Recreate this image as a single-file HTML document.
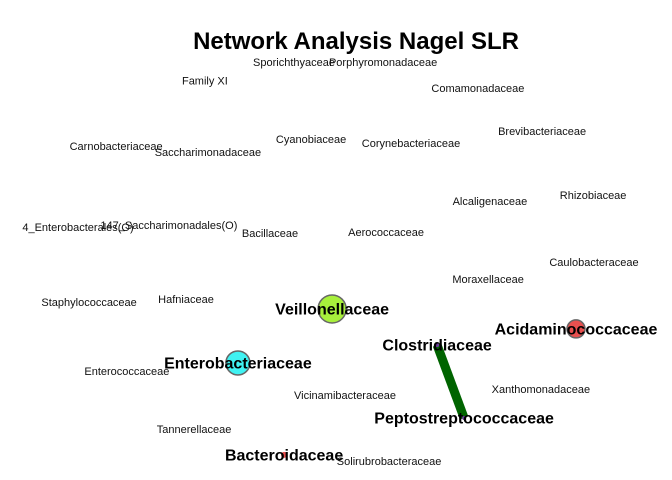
<!DOCTYPE html>
<html><head><meta charset="utf-8"><style>
html,body{margin:0;padding:0;background:#fff}
svg{display:block}
text{font-family:"Liberation Sans",sans-serif}
</style></head><body>
<svg id="chart" width="672" height="480" viewBox="0 0 672 480" xmlns="http://www.w3.org/2000/svg">
<rect width="672" height="480" fill="#fff"/>
<text x="356" y="49" text-anchor="middle" font-size="24" font-weight="bold" fill="#000">Network Analysis Nagel SLR</text>
<g id="edges"></g><g id="nodes"></g><g id="labels"></g>
</svg>
<script>
const nodeNames = ["Sporichthyaceae","Porphyromonadaceae","Family XI","Comamonadaceae","Brevibacteriaceae","Cyanobiaceae","Corynebacteriaceae","Carnobacteriaceae","Saccharimonadaceae","Alcaligenaceae","Rhizobiaceae","4_Enterobacterales(O)","147_Saccharimonadales(O)","Bacillaceae","Aerococcaceae","Caulobacteraceae","Moraxellaceae","Staphylococcaceae","Hafniaceae","Veillonellaceae","Acidaminococcaceae","Clostridiaceae","Enterobacteriaceae","Enterococcaceae","Xanthomonadaceae","Vicinamibacteraceae","Peptostreptococcaceae","Tannerellaceae","Bacteroidaceae","Solirubrobacteraceae"];
const nodeX = [-0.14,0.157,-0.437,0.473,0.687,-0.083,0.25,-0.733,-0.427,0.513,0.857,-0.86,-0.557,-0.22,0.167,0.86,0.507,-0.823,-0.5,-0.013,0.8,0.337,-0.327,-0.697,0.683,0.03,0.427,-0.473,-0.173,0.177];
const nodeY = [0.92,0.92,0.83,0.795,0.59,0.552,0.533,0.519,0.49,0.257,0.286,0.133,0.143,0.105,0.11,-0.033,-0.114,-0.224,-0.21,-0.257,-0.352,-0.429,-0.514,-0.552,-0.638,-0.667,-0.776,-0.829,-0.952,-0.981];
const nodeSize = [0,0,0,0,0,0,0,0,0,0,0,0,0,0,0,0,0,0,0,14,9,2,12,0,0,0,2,3,0];
const nodeColor = {"Veillonellaceae":"#a8f03c","Acidaminococcaceae":"#e8504f","Clostridiaceae":"#6a3d9a","Enterobacteriaceae":"#40f2f2","Peptostreptococcaceae":"#6a3d9a","Bacteroidaceae":"#e8504f"};
const boldNodes = ["Veillonellaceae","Acidaminococcaceae","Clostridiaceae","Enterobacteriaceae","Peptostreptococcaceae","Bacteroidaceae"];
const edgeFrom = ["Clostridiaceae"];
const edgeTo = ["Peptostreptococcaceae"];
const edgeWeight = [9];

const sx = v => 336 + v*300;
const sy = v => 255 - v*210;
const NS = "http://www.w3.org/2000/svg";
const eG = document.getElementById('edges'), nG = document.getElementById('nodes'), lG = document.getElementById('labels');
// sizes indexed by name (Bacteroidaceae radius 3)
const sizeOf = {};
nodeNames.forEach((n,i)=>{ sizeOf[n] = nodeSize[i] || 0; });
sizeOf["Bacteroidaceae"] = 3; sizeOf["Tannerellaceae"] = 0;
edgeFrom.forEach((f,k)=>{
  const a = nodeNames.indexOf(f), b = nodeNames.indexOf(edgeTo[k]);
  const l = document.createElementNS(NS,'line');
  
  
  l.setAttribute('x1', sx(nodeX[a])); l.setAttribute('y1', sy(nodeY[a]));
  l.setAttribute('x2', sx(nodeX[b])); l.setAttribute('y2', sy(nodeY[b]));
  l.setAttribute('stroke', '#006400'); l.setAttribute('stroke-width', edgeWeight[k]);
  eG.appendChild(l);
});
nodeNames.forEach((n,i)=>{
  const x = sx(nodeX[i]), y = sy(nodeY[i]);
  const r = sizeOf[n];
  const slug = n.toLowerCase().replace(/[^a-z0-9]+/g,'-');
  if (r > 0) {
    const c = document.createElementNS(NS,'circle');
    
    
    c.setAttribute('cx', x); c.setAttribute('cy', y); c.setAttribute('r', r);
    c.setAttribute('fill', nodeColor[n] || '#888');
    if (r > 4) { c.setAttribute('stroke', '#666'); c.setAttribute('stroke-width', '1.5'); }
    nG.appendChild(c);
  }
  const bold = boldNodes.includes(n);
  const t = document.createElementNS(NS,'text');
  
  
  t.setAttribute('x', x); t.setAttribute('y', y + (bold ? 5.5 : 4));
  t.setAttribute('text-anchor', 'middle');
  t.setAttribute('font-size', bold ? 16 : 11);
  if (bold) t.setAttribute('font-weight', 'bold');
  t.setAttribute('fill', bold ? '#000' : '#111');
  t.textContent = n;
  lG.appendChild(t);
});
</script>
</body></html>
